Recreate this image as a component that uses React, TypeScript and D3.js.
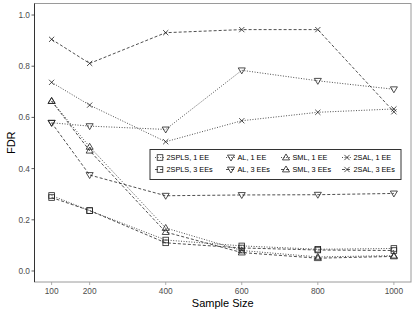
import * as d3 from "d3";

const sampleSizes = [100, 200, 400, 600, 800, 1000];
const xTicks = [100, 200, 400, 600, 800, 1000];
const yTicks = [0, 0.2, 0.4, 0.6, 0.8, 1.0];

const seriesNames = [
  "2SPLS, 1 EE",
  "2SPLS, 3 EEs",
  "AL, 1 EE",
  "AL, 3 EEs",
  "SML, 1 EE",
  "SML, 3 EEs",
  "2SAL, 1 EE",
  "2SAL, 3 EEs",
];
const seriesShapes = ["square", "square", "down", "down", "up", "up", "cross", "cross"];
const seriesDash = ["dotted", "dashed", "dotted", "dashed", "dotted", "dashed", "dotted", "dashed"];

const spls1 = [0.295, 0.236, 0.121, 0.098, 0.085, 0.088];
const spls3 = [0.287, 0.236, 0.11, 0.09, 0.082, 0.08];
const al1 = [0.579, 0.566, 0.553, 0.784, 0.743, 0.71];
const al3 = [0.579, 0.375, 0.294, 0.297, 0.298, 0.303];
const sml1 = [0.664, 0.485, 0.168, 0.08, 0.055, 0.06];
const sml3 = [0.664, 0.47, 0.152, 0.072, 0.05, 0.057];
const sal1 = [0.737, 0.648, 0.505, 0.587, 0.62, 0.633];
const sal3 = [0.905, 0.811, 0.931, 0.943, 0.943, 0.622];
const seriesValues = [spls1, spls3, al1, al3, sml1, sml3, sal1, sal3];

const W = 415;
const H = 312;
const panel = { left: 34.5, top: 3.5, right: 411, bottom: 282 };
const ink = "#222";
const font = "'Liberation Sans', Arial, Helvetica, sans-serif";

function Marker({ shape, x, y }: { shape: string; x: number; y: number }) {
  const s = 3.2;
  const common = { fill: "none", stroke: ink, strokeWidth: 0.8 };
  if (shape === "square") {
    return <rect x={x - 2.8} y={y - 2.8} width={5.6} height={5.6} {...common} />;
  }
  if (shape === "down") {
    return (
      <path
        d={`M${x - s * 1.1},${y - s * 0.75}L${x + s * 1.1},${y - s * 0.75}L${x},${y + s * 1.1}Z`}
        {...common}
      />
    );
  }
  if (shape === "up") {
    return (
      <path
        d={`M${x - s * 1.1},${y + s * 0.75}L${x + s * 1.1},${y + s * 0.75}L${x},${y - s * 1.1}Z`}
        {...common}
      />
    );
  }
  return (
    <path
      d={`M${x - 2.6},${y - 2.6}L${x + 2.6},${y + 2.6}M${x - 2.6},${y + 2.6}L${x + 2.6},${y - 2.6}`}
      {...common}
    />
  );
}

export default function App() {
  const x = d3.scaleLinear().domain([55, 1045]).range([panel.left, panel.right]);
  const y = d3.scaleLinear().domain([-0.043, 1.045]).range([panel.bottom, panel.top]);

  const line = d3
    .line<number>()
    .x((_, i) => x(sampleSizes[i]))
    .y((d) => y(d));

  const dashOf = (t: string) => (t === "dotted" ? "1,1.6" : "3,2");

  // legend layout
  const lg = { x: 150, y: 149.5, w: 251, h: 30 };
  const colCenters = [160, 231, 286, 347];
  const rowYs = [157.5, 169.5];

  return (
    <svg width={W} height={H} style={{ position: "absolute", left: 0, top: 0 }}>
      <rect width={W} height={H} fill="white" />
      {/* panel border */}
      <rect
        x={panel.left}
        y={panel.top}
        width={panel.right - panel.left}
        height={panel.bottom - panel.top}
        fill="none"
        stroke="#9a9a9a"
        strokeWidth={1}
      />
      <line x1={panel.left} x2={panel.left} y1={panel.top} y2={panel.bottom} stroke="#333" strokeWidth={1} />

      {/* y axis */}
      {yTicks.map((t) => (
        <g key={t}>
          <line x1={panel.left - 3} x2={panel.left} y1={y(t)} y2={y(t)} stroke="#333" strokeWidth={0.8} />
          <text
            x={panel.left - 4.5}
            y={y(t)}
            dy="0.35em"
            textAnchor="end"
            fontSize={8.3}
            fill="#4d4d4d"
            fontFamily={font}
          >
            {t.toFixed(1)}
          </text>
        </g>
      ))}
      {/* x axis */}
      {xTicks.map((t) => (
        <g key={t}>
          <line x1={x(t)} x2={x(t)} y1={panel.bottom} y2={panel.bottom + 3} stroke="#9a9a9a" strokeWidth={0.8} />
          <text
            x={x(t)}
            y={panel.bottom + 12}
            textAnchor="middle"
            fontSize={8.3}
            fill="#4d4d4d"
            fontFamily={font}
          >
            {t}
          </text>
        </g>
      ))}
      <text x={(panel.left + panel.right) / 2} y={307} textAnchor="middle" fontSize={11} fill="#000" fontFamily={font}>
        Sample Size
      </text>
      <text
        transform={`translate(15,${(panel.top + panel.bottom) / 2}) rotate(-90)`}
        textAnchor="middle"
        fontSize={11}
        fill="#000"
        fontFamily={font}
      >
        FDR
      </text>

      {/* series */}
      {seriesValues.map((vals, si) => (
        <g key={seriesNames[si]}>
          <path
            d={line(vals) || ""}
            fill="none"
            stroke={ink}
            strokeWidth={0.8}
            strokeDasharray={dashOf(seriesDash[si])}
          />
          {vals.map((v, i) => (
            <Marker key={i} shape={seriesShapes[si]} x={x(sampleSizes[i])} y={y(v)} />
          ))}
        </g>
      ))}

      {/* legend */}
      <rect x={lg.x} y={lg.y} width={lg.w} height={lg.h} fill="white" stroke="#333" strokeWidth={1} />
      {seriesNames.map((name, si) => {
        const cx = colCenters[Math.floor(si / 2)];
        const cy = rowYs[si % 2];
        return (
          <g key={name}>
            <line
              x1={cx - 5}
              x2={cx + 5}
              y1={cy}
              y2={cy}
              stroke={ink}
              strokeWidth={0.8}
              strokeDasharray={dashOf(seriesDash[si])}
            />
            <Marker shape={seriesShapes[si]} x={cx} y={cy} />
            <text x={cx + 6.5} y={cy} dy="0.35em" fontSize={7.3} fill="#000" fontFamily={font}>
              {name}
            </text>
          </g>
        );
      })}
    </svg>
  );
}
